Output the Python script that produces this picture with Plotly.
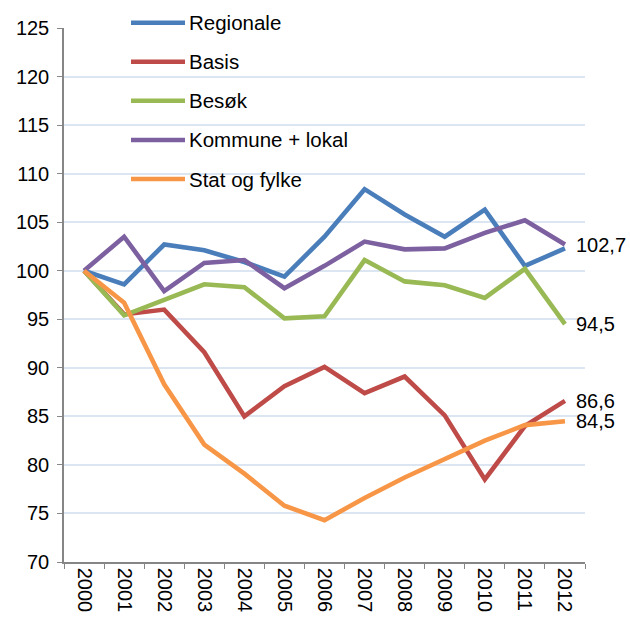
import plotly.graph_objects as go

years = [str(y) for y in range(2000, 2013)]
series_names = ["Regionale", "Basis", "Besøk", "Kommune + lokal", "Stat og fylke"]
regionale = [100, 98.6, 102.7, 102.1, 100.9, 99.4, 103.5, 108.4, 105.8, 103.5, 106.3, 100.5, 102.3]
basis = [100, 95.5, 96.0, 91.6, 85.0, 88.1, 90.1, 87.4, 89.1, 85.1, 78.5, 84.0, 86.6]
besok = [100, 95.4, 97.0, 98.6, 98.3, 95.1, 95.3, 101.1, 98.9, 98.5, 97.2, 100.2, 94.5]
kommune = [100, 103.5, 97.9, 100.8, 101.1, 98.2, 100.5, 103.0, 102.2, 102.3, 103.9, 105.2, 102.7]
stat = [100, 96.7, 88.3, 82.1, 79.1, 75.8, 74.3, 76.6, 78.7, 80.6, 82.5, 84.1, 84.5]

colors = ["#4A7EBB", "#BE4B48", "#98B954", "#7D60A0", "#F79646"]
all_series = [regionale, basis, besok, kommune, stat]

FONT = "Liberation Sans, Arial, sans-serif"

fig = go.Figure()
for name, vals, col in zip(series_names, all_series, colors):
    fig.add_trace(go.Scatter(x=years, y=vals, mode="lines", name=name,
                             line=dict(color=col, width=4.6), showlegend=False))

# end value labels (Regionale has no label)
last_idx = len(years) - 1
labelled = [(kommune, "102,7"), (besok, "94,5"), (basis, "86,6"), (stat, "84,5")]
for vals, txt in labelled:
    fig.add_annotation(x=last_idx, y=vals[-1], text=txt, showarrow=False,
                       xanchor="left", yanchor="middle", xshift=9,
                       font=dict(family=FONT, size=20, color="#000000"))

# manual legend (pixel positions converted to paper coords)
plot_left, plot_w, plot_bottom, plot_h = 64, 521, 562, 534
leg_y = [22.7, 61.7, 100.7, 140, 179]
for name, col, yp in zip(series_names, colors, leg_y):
    yy = (plot_bottom - yp) / plot_h
    fig.add_shape(type="line", xref="paper", yref="paper",
                  x0=(131 - plot_left) / plot_w, x1=(185 - plot_left) / plot_w,
                  y0=yy, y1=yy, line=dict(color=col, width=4.6))
    fig.add_annotation(xref="paper", yref="paper", x=(187 - plot_left) / plot_w, y=yy,
                       text=name, showarrow=False, xanchor="left", yanchor="middle",
                       font=dict(family=FONT, size=20.5, color="#000000"))

fig.update_layout(
    width=630, height=621,
    margin=dict(l=64, r=45, t=28, b=59, autoexpand=False),
    paper_bgcolor="white", plot_bgcolor="white",
    font=dict(family=FONT, size=20, color="#000000"),
    showlegend=False,
)
fig.update_xaxes(type="category", tickson="boundaries", ticks="outside", ticklen=5,
                 tickcolor="#868686", showline=True, linecolor="#868686", linewidth=1.5,
                 tickangle=90, showgrid=False, tickfont=dict(size=20),
                 range=[-0.5, 12.5], automargin=False)
fig.update_yaxes(range=[70, 125], dtick=5, tick0=70, ticks="outside", ticklen=5,
                 tickcolor="#868686", showline=True, linecolor="#868686", linewidth=1.5,
                 showgrid=True, gridcolor="#DCE6F2", gridwidth=1.5, zeroline=False,
                 tickfont=dict(size=20), ticklabelstandoff=4, automargin=False)

fig.write_html("out.html", config={"displayModeBar": False},
               post_script="document.body.style.margin='0';document.body.style.overflow='hidden';")
